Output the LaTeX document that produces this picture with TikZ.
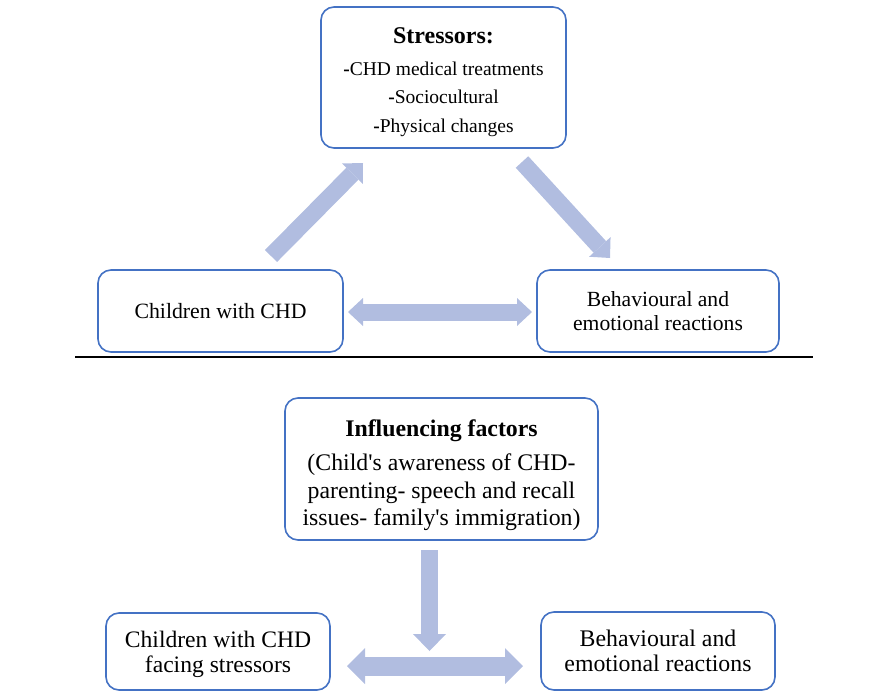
\documentclass[tikz,border=0pt]{standalone}
\usepackage{fontspec}
\setmainfont{Liberation Serif}[Ligatures=TeXOff]
\usetikzlibrary{arrows.meta}
\definecolor{boxblue}{HTML}{4472C4}
\definecolor{arrc}{HTML}{B1BDE0}
\tikzset{
  box/.style={draw=boxblue, line width=1.6pt, rounded corners=13pt, fill=white, align=center, inner sep=0pt},
  thinarr/.style={draw=arrc, line width=17pt, -{Triangle[length=15pt,width=29pt,line width=0pt]}},
  thinarrtwo/.style={draw=arrc, line width=17pt, {Triangle[length=15pt,width=28pt,line width=0pt]}-{Triangle[length=15pt,width=28pt,line width=0pt]}},
  downarr/.style={draw=arrc, line width=17pt, -{Triangle[length=17pt,width=33pt,line width=0pt]}},
  thickarrtwo/.style={draw=arrc, line width=19pt, {Triangle[length=18pt,width=36pt,line width=0pt]}-{Triangle[length=18pt,width=36pt,line width=0pt]}},
}
\begin{document}
\begin{tikzpicture}[x=1pt,y=-1pt]
\useasboundingbox (0,0) rectangle (879,697);

% top part
\node[box, minimum width=245pt, minimum height=141pt, font=\fontsize{19.5}{28.5}\selectfont] (str) at (443.5,77.5)
  {\fontsize{24}{29}\selectfont\rule{0pt}{25pt}\textbf{Stressors:}\\[3pt]
   \textbf{-}CHD medical treatments\\
   \textbf{-}Sociocultural\\
   \textbf{-}Physical changes};
\node[box, minimum width=245pt, minimum height=82pt, font=\fontsize{21.8}{24}\selectfont] (chd) at (220.5,311)
  {Children with CHD};
\node[box, minimum width=242pt, minimum height=82pt, font=\fontsize{21.6}{23.5}\selectfont] (beh) at (658,311)
  {Behavioural and\\emotional reactions};

\coordinate (a1s) at (271,256);
\coordinate (a1e) at (363,163);
\coordinate (a2s) at (522,162);
\coordinate (a2e) at (610,258);
\coordinate (d1s) at (348,312);
\coordinate (d1e) at (532,312);
\draw[thinarr] (a1s) -- (a1e);
\draw[thinarr] (a2s) -- (a2e);
\draw[thinarrtwo] (d1s) -- (d1e);

% separator
\coordinate (sepL) at (75,357);
\coordinate (sepR) at (813,357);
\draw[line width=1.6pt, black] (sepL) -- (sepR);

% bottom part
\node[box, minimum width=313pt, minimum height=142pt, font=\fontsize{23.8}{27.5}\selectfont] (inf) at (441.5,469)
  {\rule{0pt}{29pt}\textbf{Influencing factors}\\[7pt]
   (Child's awareness of CHD-\\
   parenting- speech and recall\\
   issues- family's immigration)};
\node[box, minimum width=224pt, minimum height=77pt, font=\fontsize{23.6}{25}\selectfont] (chd2) at (218,651.5)
  {\rule{0pt}{23pt}Children with CHD\\facing stressors};
\node[box, minimum width=234pt, minimum height=78pt, font=\fontsize{23.8}{25}\selectfont] (beh2) at (658,651)
  {Behavioural and\\emotional reactions};

\coordinate (ds) at (429.5,550);
\coordinate (de) at (429.5,651);
\coordinate (d2s) at (347,666);
\coordinate (d2e) at (523,666);
\draw[thickarrtwo] (d2s) -- (d2e);
\draw[downarr] (ds) -- (de);
\end{tikzpicture}
\end{document}
